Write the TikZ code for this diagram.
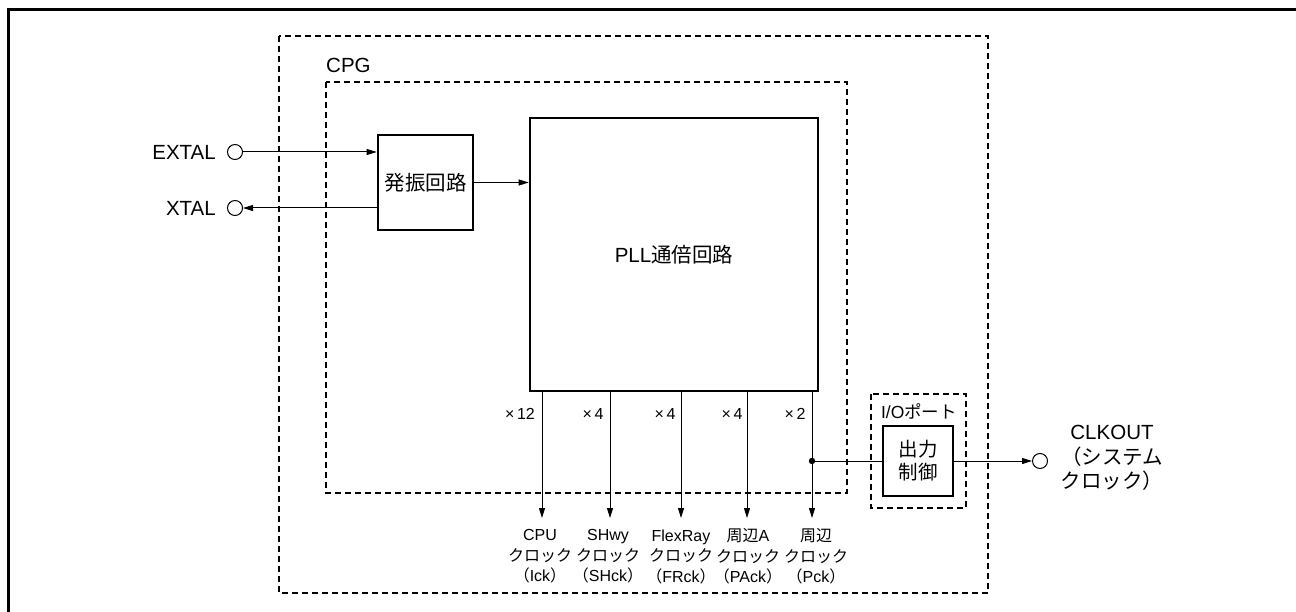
\documentclass[tikz,border=0pt]{standalone}
\usepackage{fontspec}
\setmainfont{Liberation Sans}
\newfontfamily\jp{Noto Sans CJK JP}
\usetikzlibrary{arrows.meta}
\begin{document}
\begin{tikzpicture}[x=1pt,y=-1pt,
  solidbox/.style={draw, line width=2.6pt, inner sep=0pt},
  dashbox/.style={draw, line width=2.6pt, dash pattern=on 6pt off 4pt},
  term/.style={circle, draw, line width=1pt, minimum size=15pt, inner sep=0pt},
  conn/.style={line width=1pt, -{Triangle[length=10pt,width=6pt]}},
  plain/.style={line width=1pt},
  big/.style={font=\fontsize{20.5}{24.5}\selectfont},
  small/.style={font=\fontsize{16}{20.5}\selectfont, align=center, inner sep=0pt},
]
\useasboundingbox (0,0) rectangle (1296,612);
% outer frame
\draw[line width=3pt] (8,612) -- (8,10) -- (1296,10);
% dashed boxes
\draw[dashbox] (279,36) rectangle (988,593);
\draw[dashbox] (326,82) rectangle (847,493);
\draw[dashbox] (871,394) rectangle (966,508);
\node[big, anchor=west, inner sep=0pt] (cpg) at (326,65) {CPG};
\node[font=\fontsize{17.5}{21}\selectfont, inner sep=0pt] (io) at (919,411) {I/O{\jp ポート}};

% main blocks
\node[solidbox, minimum width=95pt, minimum height=95pt, big] (osc) at (425.5,182.5) {\jp 発振回路};
\node[solidbox, minimum width=288pt, minimum height=273pt, big] (pll) at (674,254.5) {PLL{\jp 通倍回路}};
\node[solidbox, minimum width=70pt, minimum height=70pt, align=center,
      font=\fontsize{19.5}{23}\selectfont\jp] (ctrl) at (918,461) {出力\\制御};

% terminals
\node[term] (ex) at (235,152) {};
\node[term] (xt) at (235,208) {};
\node[term] (clk) at (1040,461) {};
\node[big, anchor=east, inner sep=0pt] (exl) at (216,152) {EXTAL};
\node[big, anchor=east, inner sep=0pt] (xtl) at (216,208) {XTAL};
\node[big, align=center, inner sep=0pt] (clkl) at (1112,458)
  {CLKOUT\\{\jp （システム}\\{\jp クロック）}};

% input connectors
\draw[conn] (ex.east) -- (ex.east -| osc.west);
\draw[conn] (xt.east -| osc.west) -- (xt.east);
\draw[conn] (osc.east) -- (osc.east -| pll.west);

% output taps
\foreach \i/\x in {1/542,2/610,3/681,4/747,5/812} {
  \coordinate (o\i) at (\x,391);
  \coordinate (e\i) at (\x,518);
}
\node[small] (m1) at (520,414) {×\,12};
\node[small] (m2) at (593,414) {×\,4};
\node[small] (m3) at (665,414) {×\,4};
\node[small] (m4) at (732,414) {×\,4};
\node[small] (m5) at (795,414) {×\,2};

\node[small] (l1) at (540,556.5) {CPU\\{\jp クロック}\\{\jp （}Ick{\jp ）}};
\node[small] (l2) at (608,556.5) {SHwy\\{\jp クロック}\\{\jp （}SHck{\jp ）}};
\node[small] (l3) at (681,556.5) {FlexRay\\{\jp クロック}\\{\jp （}FRck{\jp ）}};
\node[small] (l4) at (748,556.5) {{\jp 周辺}A\\{\jp クロック}\\{\jp （}PAck{\jp ）}};
\node[small] (l5) at (816,556.5) {{\jp 周辺}\\{\jp クロック}\\{\jp （}Pck{\jp ）}};

\foreach \i in {1,...,5} { \draw[conn] (o\i) -- (e\i); }

% CLKOUT path
\coordinate (dot) at (812,461);
\fill (dot) circle (3.2pt);
\draw[plain] (dot) -- (ctrl.west);
\draw[conn] (ctrl.east) -- (clk.west);
\end{tikzpicture}
\end{document}
